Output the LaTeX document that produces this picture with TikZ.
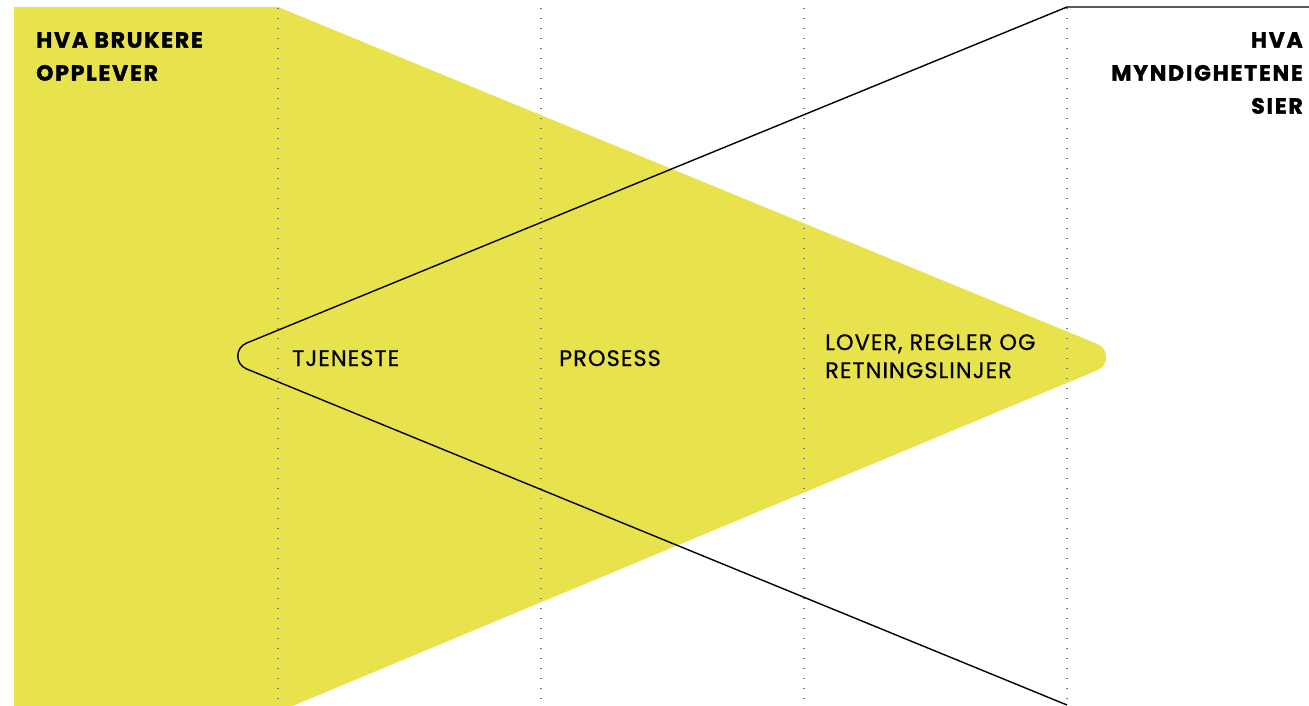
\documentclass[tikz,border=0pt]{standalone}
\usepackage{fontspec}
\usetikzlibrary{calc}
\setmainfont{Poppins}
\definecolor{fillyellow}{RGB}{232,226,76}
\definecolor{dotgray}{RGB}{120,120,120}
\begin{document}
\begin{tikzpicture}[x=1pt,y=-1pt,
  heading/.style={inner sep=0pt, font=\fontsize{22}{33}\selectfont\bfseries\addfontfeature{LetterSpace=8,FakeBold=1.5}},
  label/.style={inner sep=0pt, font=\fontsize{22.5}{28}\selectfont\addfontfeature{LetterSpace=4.5,FakeBold=0.6}},
  divider/.style={dotgray, line width=1.2pt, dash pattern=on 1.2pt off 8.8pt},
  outline/.style={black, line width=1.4pt}]
\useasboundingbox (0,0) rectangle (1309,705);
% yellow shape
\coordinate (ya) at (14,712);
\coordinate (yb) at (14,7);
\coordinate (yc) at (278,7);
\coordinate (ytip) at (1129,357);
\coordinate (yd) at (278,712);
\coordinate (yt1) at ($(ytip)!34pt!(yc)$);
\coordinate (yt2) at ($(ytip)!34pt!(yd)$);
\fill[fillyellow] (ya) -- (yb) -- (yc) -- (yt1)
  .. controls ($(yt1)!0.367!(ytip)$) and ($(yt2)!0.367!(ytip)$) .. (yt2) -- (yd) -- cycle;
% dotted dividers
\foreach \xx/\nm in {278/d1,541/d2,804/d3,1067/d4}{
  \coordinate (\nm t) at (\xx,8);
  \coordinate (\nm b) at (\xx,705);
  \draw[divider] (\nm t) -- (\nm b);
}
% outline
\coordinate (o1) at (1315,7);
\coordinate (o2) at (1067,7);
\coordinate (otip) at (215,356);
\coordinate (o4) at (1067,705);
\coordinate (ot1) at ($(otip)!34pt!(o2)$);
\coordinate (ot2) at ($(otip)!34pt!(o4)$);
\draw[outline] (o1) -- (o2) -- (ot1)
  .. controls ($(ot1)!0.367!(otip)$) and ($(ot2)!0.367!(otip)$) .. (ot2) -- (o4);
% texts
\node[heading, anchor=north west, align=left] (users) at (36,32) {HVA BRUKERE\\OPPLEVER};
\node[heading, anchor=north east, align=right] (gov) at (1303,32) {HVA\\MYNDIGHETENE\\SIER};
\node[label, anchor=base west] (tj) at (292,366) {TJENESTE};
\node[label, anchor=base west] (pr) at (559,366) {PROSESS};
\node[label, anchor=north west, align=left] (lov) at (825,334) {LOVER, REGLER OG\\RETNINGSLINJER};
\end{tikzpicture}
\end{document}
